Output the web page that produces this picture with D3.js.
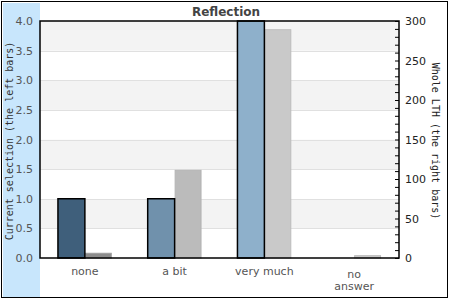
<!DOCTYPE html>
<html><head><meta charset="utf-8">
<script src="https://cdn.jsdelivr.net/npm/d3@7"></script>
<style>body{margin:0;background:#fff}svg{display:block}</style>
</head><body>
<script>
const categories = ["none", "a bit", "very much", "no answer"];
const leftValues = [1, 1, 4, 0];
const rightValues = [6, 111, 289, 3];
const leftTicks = [0, 0.5, 1, 1.5, 2, 2.5, 3, 3.5, 4];
const rightTicks = [0, 50, 100, 150, 200, 250, 300];
const leftColors = ["#3f5f7b", "#7091ac", "#8eb0cb", "#a8c4dc"];
const rightColors = ["#8c8c8c", "#bbbbbb", "#c9c9c9", "#c9c9c9"];
const rightStroke = ["#a0a0a0", "#b4b4b4", "#bdbdbd", "#bdbdbd"];

const W = 450, H = 300;
const m = {l: 40, r: 399, t: 21, b: 258};
const svg = d3.select("body").append("svg").attr("width", W).attr("height", H);

svg.append("rect").attr("x", 1.5).attr("y", 1.5).attr("width", 446).attr("height", 296)
  .attr("fill", "#fff").attr("stroke", "#000").attr("stroke-width", 1);
svg.append("rect").attr("x", 3).attr("y", 3).attr("width", 37).attr("height", 294).attr("fill", "#c8e6fc");

const x = d3.scaleBand().domain(categories).range([m.l, m.r]).paddingInner(0).paddingOuter(0);
const yL = d3.scaleLinear().domain([0, 4]).range([m.b, m.t]);
const yR = d3.scaleLinear().domain([0, 300]).range([m.b, m.t]);

// bands
const g = svg.append("g");
for (let i = 0; i < leftTicks.length - 1; i++) {
  const a = leftTicks[i], b = leftTicks[i + 1];
  g.append("rect").attr("x", m.l).attr("width", m.r - m.l)
    .attr("y", yL(b)).attr("height", yL(a) - yL(b))
    .attr("fill", i % 2 === 1 ? "#f3f3f3" : "#ffffff");
}
g.selectAll("line.grid").data(leftTicks.slice(1, -1)).join("line")
  .attr("x1", m.l).attr("x2", m.r).attr("y1", d => Math.round(yL(d)) + 0.5).attr("y2", d => Math.round(yL(d)) + 0.5)
  .attr("stroke", "#e0e0e0");

const bw = x.bandwidth() * 0.3;
const cx = d => x(d) + x.bandwidth() / 2;
svg.selectAll("rect.r").data(categories).join("rect")
  .attr("x", d => cx(d) + 0.5).attr("width", bw - 1)
  .attr("y", (d, i) => yR(rightValues[i])).attr("height", (d, i) => yR(0) - yR(rightValues[i]))
  .attr("fill", (d, i) => rightColors[i]).attr("stroke", (d, i) => rightStroke[i]).attr("stroke-width", 1);
svg.selectAll("rect.l").data(categories).join("rect")
  .attr("x", d => cx(d) - bw).attr("width", bw)
  .attr("y", (d, i) => yL(leftValues[i])).attr("height", (d, i) => yL(0) - yL(leftValues[i]))
  .attr("fill", (d, i) => leftColors[i]).attr("stroke", (d, i) => leftValues[i] > 0 ? "#000" : "none").attr("stroke-width", 1.5);

// frame
svg.append("rect").attr("x", m.l).attr("y", m.t).attr("width", m.r - m.l).attr("height", m.b - m.t)
  .attr("fill", "none").attr("stroke", "#000").attr("stroke-width", 1.5);

// left axis labels
svg.append("g").selectAll("text").data(leftTicks).join("text")
  .attr("x", 33).attr("y", d => yL(d) + 4).attr("text-anchor", "end")
  .attr("font-family", "DejaVu Sans").attr("font-size", 11).attr("fill", "#555")
  .text(d => d.toFixed(1));

// right axis
const axR = d3.axisRight(yR).tickValues(d3.range(0, 301, 10)).tickSize(-4).tickFormat("");
svg.append("g").attr("transform", `translate(${m.r},0)`).call(axR)
  .call(s => s.select(".domain").remove())
  .call(s => s.selectAll("line").attr("stroke", "#000"));
svg.append("g").selectAll("text").data(rightTicks).join("text")
  .attr("x", 405).attr("y", d => yR(d) + 4)
  .attr("font-family", "DejaVu Sans").attr("font-size", 11).attr("fill", "#222")
  .text(d => d);

// category labels
svg.append("g").selectAll("text").data(categories).join("text")
  .attr("x", d => cx(d)).attr("y", 275).attr("text-anchor", "middle")
  .attr("font-family", "DejaVu Sans").attr("font-size", 11).attr("fill", "#555")
  .each(function(d) {
    const parts = d === "no answer" ? ["no", "answer"] : [d];
    const t = d3.select(this);
    parts.forEach((p, i) => t.append("tspan").attr("x", cx(d)).attr("dy", i === 0 ? (parts.length > 1 ? 3 : 0) : 12).text(p));
  });

// titles
svg.append("text").attr("x", 226).attr("y", 16).attr("text-anchor", "middle")
  .attr("font-family", "DejaVu Sans").attr("font-weight", "bold").attr("font-size", 12).attr("fill", "#444")
  .text("Reflection");
svg.append("text").attr("transform", "translate(13,141) rotate(-90)").attr("text-anchor", "middle")
  .attr("font-family", "DejaVu Sans Mono").attr("font-size", 10).attr("fill", "#333")
  .text("Current selection (the left bars)");
svg.append("text").attr("transform", "translate(432,141) rotate(90)").attr("text-anchor", "middle")
  .attr("font-family", "DejaVu Sans Mono").attr("font-size", 10).attr("fill", "#222")
  .text("Whole LTH (the right bars)");
</script>
</body></html>
